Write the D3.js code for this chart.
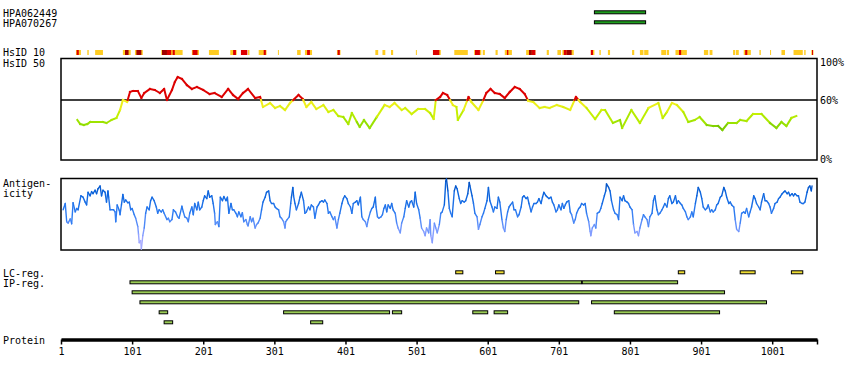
<!DOCTYPE html>
<html>
<head>
<meta charset="utf-8">
<script src="https://cdn.jsdelivr.net/npm/d3@7"></script>
<style>
html,body{margin:0;padding:0;background:#fff;}
svg{display:block;}
text{font-family:"DejaVu Sans Mono",monospace;font-size:10px;fill:#000;}
</style>
</head>
<body>
<svg id="chart" width="850" height="380"></svg>
<script>
// ---------------- DATA ----------------
const proteinLength = 1064;
const tickLabels = [1,101,201,301,401,501,601,701,801,901,1001];

const antibodies = ["HPA062449","HPA070267"];
const antibodyRanges = [[751,823],[751,823]];

// HsID 10 bar: [start, end, level] 1=partial(yellow) 2=high(red) 3=very high(dark red)
const hsid10Segments = [
 [22,29,1],[23,26,2],[38,40,1],[49,60,1],[88,99,1],[91,96,3],[105,116,1],[107,114,3],
 [142,172,1],[143,150,3],[150,156,2],[158,161,2],[185,195,1],[186,193,2],[209,223,1],
 [239,248,1],[243,247,2],[254,263,2],[264,266,1],[279,290,1],[286,289,2],[306,307,1],
 [333,338,1],[344,354,1],[347,351,2],[389,394,1],[390,393,2],[443,447,1],[453,457,1],
 [465,468,1],[500,501,1],[524,535,1],[524,533,2],[554,573,1],[582,592,1],[583,590,2],
 [594,597,1],[612,615,1],[625,635,1],[628,630,2],[655,668,1],[659,663,3],[663,668,2],
 [684,687,1],[699,704,1],[706,722,1],[708,712,2],[712,719,3],[746,751,1],[746,749,2],
 [758,760,1],[770,773,1],[804,807,1],[815,820,1],[821,827,1],[845,852,1],[853,856,1],
 [865,881,1],[870,873,2],[905,911,1],[913,917,1],[946,949,1],[950,954,1],[961,971,1],
 [963,966,2],[983,985,1],[998,999,1],[1014,1019,1],[1031,1044,1],[1046,1048,1],
 [1056,1059,1],[1057,1058,2]
];

// HsID 50 profile (% identity)
const hsidPos = [24,28,33,38,42,52,60,65,72,79,84,88,94,98,102,109,114,118,126,133,140,146,150,157,161,165,171,178,185,192,201,210,217,227,236,243,250,257,264,274,281,285,295,302,309,316,323,335,341,346,353,360,370,377,384,391,398,405,410,417,421,427,435,445,456,463,470,480,485,494,503,513,520,525,528,534,538,544,548,552,557,559,567,574,578,588,595,599,605,611,618,625,632,639,646,653,658,665,674,681,688,698,707,717,725,731,740,752,761,766,777,787,790,803,815,827,841,847,853,860,867,876,883,892,899,909,918,925,931,939,951,956,965,974,986,998,1007,1014,1021,1028,1035];
const hsidVal = [40,36,35,36,38,38,38,37,40,42,50,60,58,68,69,69,62,67,71,70,67,71,60,70,78,83,81,75,71,73,70,66,67,63,71,65,61,67,71,62,63,53,57,52,54,50,57,65,61,53,58,51,55,48,50,44,43,36,47,38,33,40,32,43,55,53,57,50,52,46,51,51,47,41,60,63,67,65,60,55,53,40,50,63,58,50,60,67,71,67,66,62,68,73,71,66,59,58,52,53,52,55,53,50,63,58,52,41,50,50,37,40,32,50,37,52,57,42,48,57,55,48,38,40,43,35,34,34,30,37,37,40,39,46,46,37,32,38,34,42,44];

// Antigenicity profile (relative score 0-100)
const antiPos = [4,7,9,11,14,16,18,21,23,25,29,32,35,37,39,42,44,46,49,51,53,56,58,60,63,65,67,68,70,75,77,78,80,83,84,86,88,90,92,95,97,99,101,104,106,109,110,111,113,114,116,118,120,122,125,127,129,132,135,137,139,142,144,146,150,152,154,157,159,162,165,167,171,173,175,178,180,182,185,187,189,192,194,196,199,201,203,206,208,210,213,215,217,218,221,223,225,228,230,233,235,237,240,242,244,247,249,251,254,256,258,261,263,264,267,269,271,274,276,278,281,283,285,288,290,293,295,297,300,302,304,307,309,311,314,316,317,319,322,324,325,327,328,330,332,335,337,339,342,344,346,349,351,353,356,358,
361,363,365,368,370,372,375,377,379,382,384,386,389,391,393,396,398,400,403,405,408,410,412,415,417,419,422,424,426,429,431,433,436,438,440,443,444,446,448,451,453,455,457,459,461,464,466,468,471,473,475,478,480,483,485,487,490,492,494,497,499,501,504,506,508,511,513,515,518,520,521,523,526,528,530,533,535,537,540,542,543,545,547,549,551,554,556,558,561,563,565,568,570,573,575,576,579,581,583,586,588,590,593,595,597,600,602,604,607,609,611,614,616,618,621,623,625,627,629,631,633,636,638,640,643,645,648,650,652,655,657,659,662,664,666,669,671,673,676,678,680,683,685,687,690,692,694,697,699,701,704,706,708,
710,712,715,717,719,722,724,726,729,731,733,736,738,740,743,745,746,748,751,753,755,758,760,762,765,767,768,771,773,775,778,780,783,785,787,790,792,794,797,799,801,804,806,808,811,813,815,818,820,822,825,827,829,832,834,836,839,841,843,846,848,850,853,855,857,860,862,865,867,869,872,874,876,879,881,883,886,888,890,893,895,897,900,902,904,907,909,911,914,916,918,921,923,925,928,930,933,935,937,940,942,944,947,949,951,954,956,958,961,963,965,968,970,972,975,977,979,982,984,986,989,991,993,996,998,1000,1003,1005,1008,1010,1012,1015,1017,1019,1022,1024,1026,1029,1031,1033,1036,1038,1040,1043,1045,1047,1050,1052,1054,1056,1057];
const antiVal = [56,65,39,37,43,36,66,53,58,56,76,74,67,63,81,76,82,79,84,79,86,90,76,84,81,67,83,74,56,56,53,39,63,55,49,63,78,67,70,66,67,56,58,49,44,32,21,9,12,0,19,30,51,60,56,69,74,69,60,51,56,53,56,51,42,44,39,42,56,53,46,44,61,53,46,44,39,51,60,49,65,56,67,56,60,69,76,72,83,74,76,65,51,35,39,32,74,69,75,69,74,51,65,56,56,51,46,53,46,52,39,42,35,33,46,39,44,30,35,37,44,56,67,74,81,83,69,65,65,60,58,56,46,44,39,30,39,42,46,65,74,88,76,65,56,65,74,81,69,51,53,60,56,63,60,44,
60,63,67,69,67,70,65,51,53,46,42,46,30,42,51,65,72,76,72,65,60,51,65,67,69,63,74,46,42,39,32,42,53,58,60,74,60,46,44,46,49,58,63,53,63,58,65,56,51,37,30,23,37,46,58,69,60,67,69,60,81,65,56,44,30,25,19,30,23,42,19,9,37,30,23,35,51,53,63,97,100,83,58,51,46,83,90,86,72,65,69,67,69,79,95,90,76,65,51,46,28,35,46,51,58,69,88,69,60,53,60,58,74,67,42,30,25,42,53,60,63,67,56,56,46,49,60,74,76,72,74,65,53,60,65,65,67,72,65,74,81,76,74,72,74,67,63,53,56,63,56,65,58,
63,67,69,53,49,37,42,51,58,60,65,63,65,51,39,25,19,30,35,30,51,53,58,65,76,83,93,88,83,69,56,51,49,42,74,69,76,69,67,65,60,56,35,23,25,19,30,42,49,46,42,32,46,51,69,76,56,49,51,56,60,65,60,72,76,65,67,76,65,69,65,63,58,53,46,42,46,53,46,65,76,88,81,72,60,56,58,63,53,56,53,56,63,65,74,76,88,83,74,65,67,63,60,42,28,25,37,51,53,51,58,46,53,60,76,72,65,60,56,67,79,69,69,65,60,51,58,65,67,72,74,79,81,83,79,81,76,79,76,79,76,76,67,65,65,67,81,88,90,83,90];

// Sequence regions
const lcRegions = [[556,566],[612,624],[869,878],[956,977],[1028,1044]];
const ipRegions = [ // [start, end, row]
 [98,733,0],[734,868,0],
 [101,934,1],
 [112,729,2],[747,993,2],
 [139,151,3],[314,463,3],[467,480,3],[580,601,3],[610,629,3],[779,927,3],
 [146,158,4],[352,369,4]
];

// ---------------- DRAW ----------------
const svg = d3.select("#chart");
const x = d3.scaleLinear().domain([1, proteinLength]).range([61, 817]);
const yHs = d3.scaleLinear().domain([0, 100]).range([160, 60]);
const yAg = d3.scaleLinear().domain([0, 100]).range([249, 179]);

// left labels
const labels = [["HPA062449",13],["HPA070267",23],["HsID 10",52.5],["HsID 50",63],
  ["Antigen-",183],["icity",193],["LC-reg.",273],["IP-reg.",283.5],["Protein",340]];
svg.selectAll("text.lab").data(labels).join("text").attr("class","lab")
  .attr("x",3).attr("y",d=>d[1]).attr("dy","0.35em").text(d=>d[0]);

// antibody bars
svg.selectAll("rect.ab").data(antibodyRanges).join("rect").attr("class","ab")
  .attr("x",d=>x(d[0])).attr("width",d=>x(d[1])-x(d[0]))
  .attr("y",(d,i)=>10.8+i*10).attr("height",3)
  .attr("fill","#1d9c1d").attr("stroke","#000").attr("stroke-width",1);

// HsID 10 bar
const lvlColor = {1:"#ffcc22",2:"#dd0000",3:"#a00000"};
const sortedSeg = hsid10Segments.slice().sort((a,b)=>a[2]-b[2]);
svg.selectAll("rect.h10").data(sortedSeg).join("rect").attr("class","h10")
  .attr("x",d=>x(d[0])).attr("width",d=>Math.max(1,x(d[1])-x(d[0])))
  .attr("y",50).attr("height",5).attr("fill",d=>lvlColor[d[2]]);

// HsID 50 plot box
svg.append("rect").attr("x",61).attr("y",58.5).attr("width",756).attr("height",101.5)
  .attr("fill","none").attr("stroke","#000").attr("stroke-width",1.5);
svg.append("line").attr("x1",61).attr("x2",817).attr("y1",yHs(60)).attr("y2",yHs(60))
  .attr("stroke","#000").attr("stroke-width",1.5);
[["100%",100,62.5],["60%",60,100],["0%",0,159]].forEach(d=>{
  svg.append("text").attr("x",820).attr("y",d[2]).attr("dy","0.35em").text(d[0]);
});

const greenScale = d3.scaleLinear().domain([28,36,46,56,60])
  .range(["#4fa800","#94e000","#c4f000","#f0ef1c","#f4f020"]).clamp(true);
function hsColor(v){ return v>=60 ? "#dd0000" : greenScale(v); }

const hsSegs = [];
for(let i=0;i<hsidPos.length-1;i++){
  const p0=hsidPos[i], p1=hsidPos[i+1], v0=hsidVal[i], v1=hsidVal[i+1];
  if((v0-60)*(v1-60)<0){
    const t=(60-v0)/(v1-v0), pm=p0+t*(p1-p0);
    hsSegs.push([p0,v0,pm,60,(v0+60)/2]);
    hsSegs.push([pm,60,p1,v1,(v1+60)/2]);
  } else hsSegs.push([p0,v0,p1,v1,(v0+v1)/2]);
}
svg.append("g").selectAll("line").data(hsSegs).join("line")
  .attr("x1",d=>x(d[0])).attr("y1",d=>yHs(d[1])).attr("x2",d=>x(d[2])).attr("y2",d=>yHs(d[3]))
  .attr("stroke",d=>hsColor(d[4])).attr("stroke-width",2).attr("stroke-linecap","square");

// Antigenicity box
svg.append("rect").attr("x",61).attr("y",178.5).attr("width",756).attr("height",71.5)
  .attr("fill","none").attr("stroke","#000").attr("stroke-width",1.5);
const agColor = d3.scaleLinear().domain([0,25,50,80,100])
  .range(["#b8b0ff","#7f9cff","#2d7cf2","#0a63dc","#0048b4"]).clamp(true);
const agSegs = [];
for(let i=0;i<antiPos.length-1;i++) agSegs.push([antiPos[i],antiVal[i],antiPos[i+1],antiVal[i+1]]);
svg.append("g").selectAll("line").data(agSegs).join("line")
  .attr("x1",d=>x(d[0])).attr("y1",d=>yAg(d[1])).attr("x2",d=>x(d[2])).attr("y2",d=>yAg(d[3]))
  .attr("stroke",d=>agColor((d[1]+d[3])/2)).attr("stroke-width",1.4).attr("stroke-linecap","round");

// LC regions
svg.selectAll("rect.lc").data(lcRegions).join("rect").attr("class","lc")
  .attr("x",d=>x(d[0])).attr("width",d=>x(d[1])-x(d[0]))
  .attr("y",270.8).attr("height",3)
  .attr("fill","#eedd33").attr("stroke","#000").attr("stroke-width",1);

// IP regions
svg.selectAll("rect.ip").data(ipRegions).join("rect").attr("class","ip")
  .attr("x",d=>x(d[0])).attr("width",d=>x(d[1])-x(d[0]))
  .attr("y",d=>280.8+d[2]*10).attr("height",3)
  .attr("fill","#9acc55").attr("stroke","#000").attr("stroke-width",1);

// Protein axis
const axis = d3.axisBottom(x).tickValues(tickLabels.concat([proteinLength]))
  .tickFormat(d=>d===proteinLength?"":d).tickSizeInner(5).tickSizeOuter(0);
const gAx = svg.append("g").attr("transform","translate(0,339.5)").call(axis);
gAx.select(".domain").attr("stroke","#000").attr("stroke-width",3.5);
gAx.selectAll(".tick line").attr("stroke","#000").attr("stroke-width",1.5);
gAx.selectAll(".tick text").attr("y",11.5).attr("dy","0.35em")
  .attr("font-family","DejaVu Sans Mono").attr("font-size",10).attr("fill","#000");
</script>
</body>
</html>
